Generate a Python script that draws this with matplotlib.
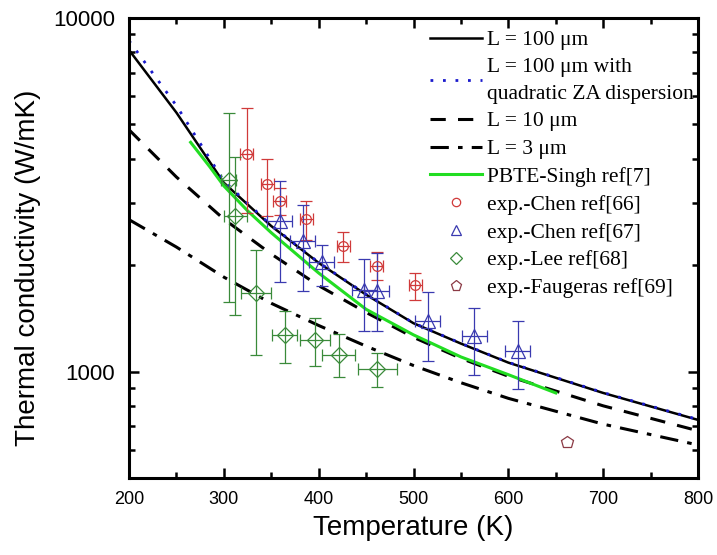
import matplotlib
matplotlib.use("Agg")
import matplotlib.pyplot as plt
from matplotlib.ticker import FixedLocator, LogLocator, NullFormatter, FuncFormatter, MultipleLocator
from matplotlib.lines import Line2D

# ---- data ----
T_curve = [200, 250, 300, 350, 400, 450, 500, 550, 600, 700, 800]
k_L100 = [8120, 5400, 3420, 2580, 2030, 1650, 1370, 1200, 1060, 870, 730]
k_L100_quad = [8630, 5650, 3460, 2590, 2035, 1655, 1372, 1202, 1062, 872, 732]
k_L10 = [4830, 3550, 2700, 2150, 1750, 1470, 1250, 1090, 970, 800, 680]
k_L3 = [2690, 2250, 1850, 1560, 1350, 1180, 1040, 930, 840, 710, 620]

T_singh = [265, 285, 300, 325, 350, 400, 450, 500, 550, 600, 650]
k_singh = [4450, 3800, 3350, 2850, 2470, 1900, 1500, 1270, 1100, 980, 870]

T_chen66 = [324, 346, 359, 387, 426, 461, 502]
k_chen66 = [4130, 3400, 3030, 2700, 2260, 1995, 1762]
k_chen66_hi = [5570, 4000, 3300, 3030, 2477, 2175, 1905]
k_chen66_lo = [2810, 2760, 2780, 2360, 2037, 1820, 1596]
xerr_chen66 = [7, 7, 7, 7, 7, 7, 7]

T_chen67 = [359, 383, 403, 448, 461, 515, 564, 610]
k_chen67 = [2660, 2333, 2040, 1706, 1693, 1387, 1259, 1141]
k_chen67_hi = [3470, 2966, 2285, 2083, 2170, 1674, 1517, 1387]
k_chen67_lo = [1787, 1687, 1750, 1306, 1306, 1069, 976, 890]
xerr_chen67 = [13, 13, 13, 13, 13, 13, 13, 13]

T_lee = [305, 312, 334, 364, 396, 421, 462]
k_lee = [3480, 2760, 1672, 1265, 1232, 1117, 1018]
k_lee_hi = [5400, 4055, 2213, 1479, 1422, 1274, 1132]
k_lee_lo = [1570, 1443, 1117, 1055, 1040, 967, 903]
xerr_lee = [8, 12, 16, 13, 16, 17, 21]

T_faug = [662]
k_faug = [634]

xticks = [200, 300, 400, 500, 600, 700, 800]
yticks = [1000, 10000]

c_chen66 = "#d03a3a"
c_chen67 = "#3a3ab0"
c_lee = "#3a8a3a"
c_faug = "#8b3a45"

# ---- figure ----
fig = plt.figure(figsize=(7.17, 5.55), dpi=100)
ax = fig.add_axes([129/717, 1-478/555, (698-129)/717, (478-18)/555])

h1, = ax.plot(T_curve, k_L100, color="black", lw=1.8)
h2, = ax.plot(T_curve, k_L100_quad, color="#1a1acc", lw=2.0, ls=(0, (1, 3.5)))
h3, = ax.plot(T_curve, k_L10, color="black", lw=2.2, ls=(0, (5, 4)))
h4, = ax.plot(T_curve, k_L3, color="black", lw=2.2, ls=(0, (6, 3, 1.5, 3)))
h5, = ax.plot(T_singh, k_singh, color="#22dd22", lw=2.2)

def eb(T, k, hi, lo, xe, color, marker, ms):
    yerr = [[a - b for a, b in zip(k, lo)], [b - a for a, b in zip(k, hi)]]
    ax.errorbar(T, k, yerr=yerr, xerr=xe, fmt=marker, ms=ms, mfc="none",
                mec=color, ecolor=color, elinewidth=0.9, capsize=4.5,
                capthick=0.9, mew=0.9)

eb(T_chen66, k_chen66, k_chen66_hi, k_chen66_lo, xerr_chen66, c_chen66, "o", 7)
eb(T_chen67, k_chen67, k_chen67_hi, k_chen67_lo, xerr_chen67, c_chen67, "^", 10)
eb(T_lee, k_lee, k_lee_hi, k_lee_lo, xerr_lee, c_lee, "D", 8.5)
ax.plot(T_faug, k_faug, ls="none", marker="p", ms=9, mfc="none", mec=c_faug, mew=0.9)

ax.set_yscale("log")
ax.set_xlim(200, 800)
ax.set_ylim(500, 10000)
ax.xaxis.set_major_locator(FixedLocator(xticks))
ax.xaxis.set_minor_locator(MultipleLocator(50))
ax.yaxis.set_major_locator(FixedLocator(yticks))
ax.yaxis.set_minor_locator(LogLocator(base=10, subs=range(2, 10)))
ax.yaxis.set_major_formatter(FuncFormatter(lambda v, p: f"{int(round(v))}"))
ax.yaxis.set_minor_formatter(NullFormatter())

ax.tick_params(which="both", direction="in", top=True, right=True, width=1.8)
ax.tick_params(which="major", length=7)
ax.tick_params(which="minor", length=4.5)
ax.tick_params(axis="x", which="major", labelsize=13, pad=9)
ax.tick_params(axis="y", which="major", labelsize=16, pad=10)
for lab in ax.get_xticklabels() + ax.get_yticklabels():
    lab.set_fontfamily("Liberation Sans")
for s in ax.spines.values():
    s.set_linewidth(2.2)

fig.text(413.5/717, 1-528/555, "Temperature (K)", ha="center", va="center",
         fontsize=20, family="Liberation Sans")
fig.text(28/717, 1-268/555, "Thermal conductivity (W/mK)", ha="center", va="center",
         rotation=90, fontsize=20, family="Liberation Sans")

def mk(marker, color, ms):
    return Line2D([], [], ls="none", marker=marker, mfc="none", mec=color, ms=ms, mew=0.9)

handles = [h1, h2, h3, h4, h5,
           mk("o", c_chen66, 6), mk("^", c_chen67, 7.5), mk("D", c_lee, 6), mk("p", c_faug, 8)]
labels = ["L = 100 \u03bcm", "L = 100 \u03bcm with\nquadratic ZA dispersion",
          "L = 10 \u03bcm", "L = 3 \u03bcm", "PBTE-Singh ref[7]",
          "exp.-Chen ref[66]", "exp.-Chen ref[67]", "exp.-Lee ref[68]",
          "exp.-Faugeras ref[69]"]
leg = ax.legend(handles, labels, loc="upper left", bbox_to_anchor=(430/717, 1-30/555),
                bbox_transform=fig.transFigure, frameon=False, borderpad=0, borderaxespad=0,
                handlelength=2.4, handletextpad=0.25, labelspacing=0.36, numpoints=1,
                prop={"family": "Liberation Serif", "size": 15.5})
for t in leg.get_texts():
    t.set_linespacing(1.55)

fig.savefig("out.png", dpi=100)
